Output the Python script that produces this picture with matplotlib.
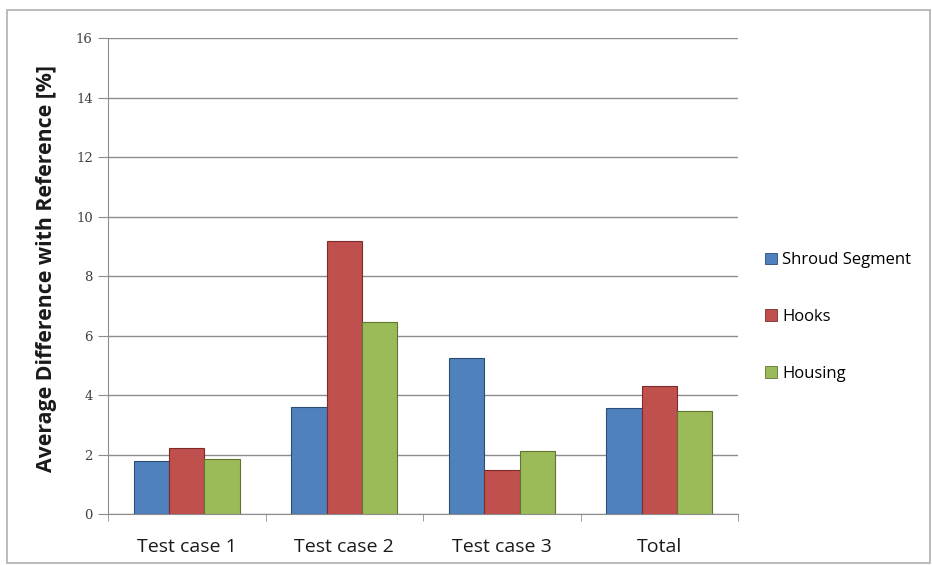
import matplotlib.pyplot as plt
import numpy as np
from matplotlib.patches import Rectangle

categories = ['Test case 1', 'Test case 2', 'Test case 3', 'Total']
series_names = ['Shroud Segment', 'Hooks', 'Housing']
shroud = [1.78, 3.6, 5.27, 3.58]
hooks = [2.22, 9.17, 1.51, 4.33]
housing = [1.87, 6.45, 2.14, 3.49]
y_ticks = [0, 2, 4, 6, 8, 10, 12, 14, 16]

colors = ['#4F81BD', '#C0504D', '#9BBB59']
edges = ['#2C4D75', '#7F2B29', '#5F7530']

fig = plt.figure(figsize=(9.32, 5.65), dpi=100)
ax = fig.add_axes([0.1159, 0.0894, 0.676, 0.8433])

x = np.arange(len(categories))
w = 0.225
for i, (vals, name) in enumerate(zip([shroud, hooks, housing], series_names)):
    ax.bar(x + (i - 1) * w, vals, width=w, color=colors[i], edgecolor=edges[i],
           linewidth=0.8, label=name, zorder=3)

ax.set_xlim(-0.5, 3.5)
ax.set_ylim(0, 16)
ax.set_yticks(y_ticks)
ax.set_yticklabels([str(t) for t in y_ticks], family='DejaVu Serif', fontsize=9.5, color='#404040')
ax.yaxis.grid(True, color='#8C8C8C', linewidth=1, zorder=0)
ax.tick_params(axis='y', length=7, color='#8C8C8C', pad=4)

ax.set_xticks(x)
ax.set_xticklabels(categories, family='Open Sans', fontsize=14, color='#1a1a1a')
ax.set_xticks(np.arange(-0.5, 4, 1), minor=True)
ax.tick_params(axis='x', which='major', length=0, pad=17)
ax.tick_params(axis='x', which='minor', length=5, color='#8C8C8C')

for s in ['top', 'right']:
    ax.spines[s].set_visible(False)
ax.spines['left'].set_color('#8C8C8C')
ax.spines['bottom'].set_color('#8C8C8C')

ax.set_ylabel('Average Difference with Reference [%]', family='Open Sans', fontweight='bold',
              fontsize=15.3, color='#1a1a1a')
ax.yaxis.set_label_coords(-0.097, 0.517)
ax.yaxis.label.set_va('center')

handles = [Rectangle((0, 0), 1, 1, facecolor=colors[i], edgecolor=edges[i], linewidth=0.6)
           for i in range(3)]
fig.legend(handles, series_names, loc='upper left', bbox_to_anchor=(0.805, 0.58),
           frameon=False, prop={'family': 'Open Sans', 'size': 12}, handlelength=0.7,
           handleheight=0.7, handletextpad=0.3, labelspacing=2.45)

# outer chart border
fig.patches.append(Rectangle((0.008, 0.004), 0.99, 0.978, transform=fig.transFigure,
                             fill=False, edgecolor='#B0B0B0', linewidth=1.2))

fig.savefig('out.png', dpi=100)
